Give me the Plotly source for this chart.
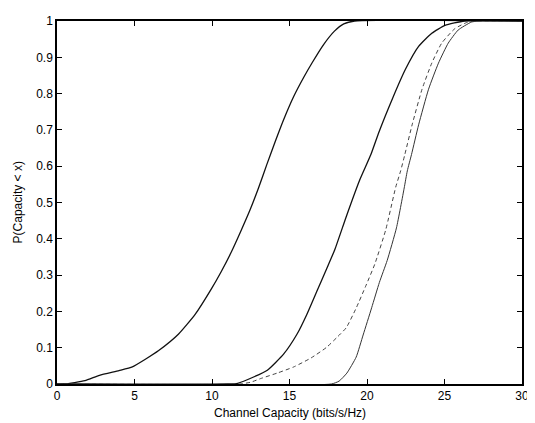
import plotly.graph_objects as go

# Curve 1 (leftmost, solid)
c1_x = [0.0, 0.5, 1.8, 2.74, 4.0, 4.86, 5.7, 6.56, 7.83, 8.9, 9.96, 10.6, 11.23, 11.85, 12.45, 13.0, 13.54, 14.08, 14.62, 15.27, 15.92, 16.46, 17.2, 17.9, 18.5, 19.2, 30.0]
c1_y = [0.0, 0.0, 0.009, 0.024, 0.037, 0.047, 0.068, 0.092, 0.137, 0.191, 0.262, 0.31, 0.362, 0.42, 0.479, 0.54, 0.605, 0.668, 0.728, 0.792, 0.845, 0.885, 0.935, 0.972, 0.992, 1.0, 1.0]

# Curve 2 (solid)
c2_x = [0.0, 11.0, 11.66, 12.72, 13.57, 14.63, 15.48, 16.11, 16.75, 17.39, 17.92, 18.66, 19.51, 20.25, 20.78, 21.64, 22.48, 23.33, 24.18, 25.03, 26.3, 30.0]
c2_y = [0.0, 0.0, 0.002, 0.02, 0.038, 0.083, 0.137, 0.191, 0.254, 0.317, 0.37, 0.461, 0.56, 0.632, 0.695, 0.786, 0.867, 0.93, 0.966, 0.988, 1.0, 1.0]

# Curve 3 (dashed)
c3_x = [0.0, 11.8, 12.5, 13.14, 14.2, 15.27, 16.4, 17.39, 18.1, 18.66, 19.3, 19.94, 20.5, 21.21, 21.85, 22.17, 22.44, 22.91, 23.55, 24.18, 24.82, 25.67, 26.5, 27.0, 30.0]
c3_y = [0.0, 0.0, 0.005, 0.015, 0.03, 0.047, 0.072, 0.101, 0.13, 0.155, 0.209, 0.272, 0.33, 0.425, 0.542, 0.587, 0.632, 0.714, 0.812, 0.884, 0.939, 0.979, 0.997, 1.0, 1.0]

# Curve 4 (rightmost, thin)
c4_x = [0.0, 17.7, 18.2, 18.7, 19.3, 19.75, 20.3, 20.8, 21.3, 21.9, 22.4, 22.6, 22.87, 23.33, 23.97, 24.61, 25.24, 25.88, 26.73, 27.2, 30.0]
c4_y = [0.0, 0.0, 0.008, 0.03, 0.074, 0.135, 0.21, 0.28, 0.34, 0.43, 0.54, 0.587, 0.632, 0.714, 0.812, 0.884, 0.939, 0.975, 0.997, 1.0, 1.0]

x_ticks = [0, 5, 10, 15, 20, 25, 30]
y_ticks = [0, 0.1, 0.2, 0.3, 0.4, 0.5, 0.6, 0.7, 0.8, 0.9, 1]
y_tick_labels = ["0", "0.1", "0.2", "0.3", "0.4", "0.5", "0.6", "0.7", "0.8", "0.9", "1"]
x_title = "Channel Capacity (bits/s/Hz)"
y_title = "P(Capacity < x)"

FONT = "Liberation Sans, Arial, sans-serif"

fig = go.Figure()
fig.add_trace(go.Scatter(x=c1_x, y=c1_y, mode="lines", line=dict(color="#111111", width=1.3, shape="spline", smoothing=0.5)))
fig.add_trace(go.Scatter(x=c2_x, y=c2_y, mode="lines", line=dict(color="#111111", width=1.3, shape="spline", smoothing=0.5)))
fig.add_trace(go.Scatter(x=c3_x, y=c3_y, mode="lines", line=dict(color="#444444", width=1, dash="4px,3px", shape="spline", smoothing=0.5)))
fig.add_trace(go.Scatter(x=c4_x, y=c4_y, mode="lines", line=dict(color="#333333", width=1, shape="spline", smoothing=0.5)))

axis_common = dict(showgrid=False, zeroline=False, showline=True, linecolor="black", linewidth=1.5,
                   mirror="allticks", ticks="inside", ticklen=5, tickcolor="black", tickwidth=1.2,
                   tickfont=dict(family=FONT, size=12, color="black"))

# The page body adds an 8px margin, so the figure is sized 8px smaller on each axis
fig.update_layout(
    width=527, height=415,
    margin=dict(l=49, r=7, t=6, b=39),
    paper_bgcolor="white", plot_bgcolor="white",
    showlegend=False,
    xaxis=dict(range=[0, 30], tickvals=x_ticks, ticktext=[str(v) for v in x_ticks], **axis_common),
    yaxis=dict(range=[0, 1], tickvals=y_ticks, ticktext=y_tick_labels, **axis_common),
    annotations=[
        dict(text=x_title, xref="paper", yref="paper", x=0.5, y=-0.081, xanchor="center", yanchor="middle",
             showarrow=False, font=dict(family=FONT, size=12, color="black")),
        dict(text=y_title, xref="paper", yref="paper", x=-0.084, y=0.5, xanchor="center", yanchor="middle",
             textangle=-90, showarrow=False, font=dict(family=FONT, size=12, color="black")),
    ],
)

fig.write_html("out.html")
